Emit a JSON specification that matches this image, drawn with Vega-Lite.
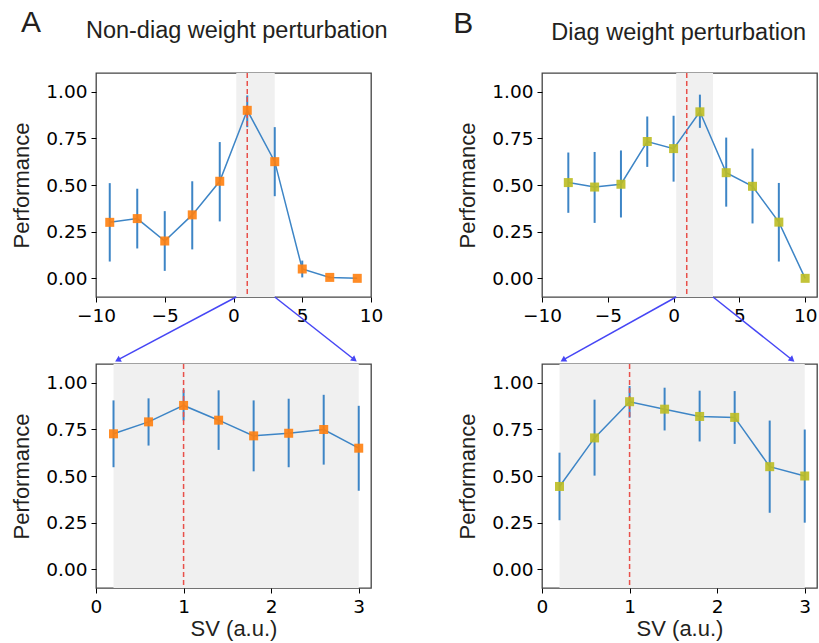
{
  "$schema": "https://vega.github.io/schema/vega-lite/v6.json",
  "background": "white",
  "padding": {"left": 10, "top": 7, "right": 3, "bottom": 3},
  "datasets": {
    "nd_full": [
      {"sv": -9, "perf": 0.30, "lo": 0.09, "hi": 0.51},
      {"sv": -7, "perf": 0.32, "lo": 0.16, "hi": 0.48},
      {"sv": -5, "perf": 0.20, "lo": 0.04, "hi": 0.36},
      {"sv": -3, "perf": 0.34, "lo": 0.155, "hi": 0.52},
      {"sv": -1, "perf": 0.52, "lo": 0.305, "hi": 0.73},
      {"sv": 1, "perf": 0.90, "lo": 0.81, "hi": 0.98},
      {"sv": 3, "perf": 0.625, "lo": 0.44, "hi": 0.81},
      {"sv": 5, "perf": 0.05, "lo": 0.005, "hi": 0.095},
      {"sv": 7, "perf": 0.005, "lo": 0.0, "hi": 0.01},
      {"sv": 9, "perf": 0.0, "lo": 0.0, "hi": 0.0}
    ],
    "d_full": [
      {"sv": -8, "perf": 0.513, "lo": 0.351, "hi": 0.674},
      {"sv": -6, "perf": 0.489, "lo": 0.297, "hi": 0.677},
      {"sv": -4, "perf": 0.504, "lo": 0.326, "hi": 0.685},
      {"sv": -2, "perf": 0.733, "lo": 0.597, "hi": 0.867},
      {"sv": 0, "perf": 0.695, "lo": 0.518, "hi": 0.871},
      {"sv": 2, "perf": 0.892, "lo": 0.806, "hi": 0.984},
      {"sv": 4, "perf": 0.566, "lo": 0.384, "hi": 0.754},
      {"sv": 6, "perf": 0.493, "lo": 0.294, "hi": 0.695},
      {"sv": 8, "perf": 0.301, "lo": 0.09, "hi": 0.511},
      {"sv": 10, "perf": 0.0, "lo": 0.0, "hi": 0.0}
    ],
    "nd_zoom": [
      {"sv": 0.2, "perf": 0.726, "lo": 0.547, "hi": 0.905},
      {"sv": 0.6, "perf": 0.79, "lo": 0.663, "hi": 0.916},
      {"sv": 1.0, "perf": 0.878, "lo": 0.797, "hi": 0.962},
      {"sv": 1.4, "perf": 0.799, "lo": 0.64, "hi": 0.959},
      {"sv": 1.8, "perf": 0.715, "lo": 0.525, "hi": 0.905},
      {"sv": 2.2, "perf": 0.729, "lo": 0.547, "hi": 0.914},
      {"sv": 2.6, "perf": 0.749, "lo": 0.561, "hi": 0.935},
      {"sv": 3.0, "perf": 0.649, "lo": 0.421, "hi": 0.876}
    ],
    "d_zoom": [
      {"sv": 0.2, "perf": 0.444, "lo": 0.263, "hi": 0.625},
      {"sv": 0.6, "perf": 0.704, "lo": 0.502, "hi": 0.909},
      {"sv": 1.0, "perf": 0.898, "lo": 0.812, "hi": 0.982},
      {"sv": 1.4, "perf": 0.858, "lo": 0.744, "hi": 0.973},
      {"sv": 1.8, "perf": 0.819, "lo": 0.685, "hi": 0.957},
      {"sv": 2.2, "perf": 0.814, "lo": 0.672, "hi": 0.955},
      {"sv": 2.6, "perf": 0.55, "lo": 0.303, "hi": 0.797},
      {"sv": 3.0, "perf": 0.50, "lo": 0.25, "hi": 0.749}
    ],
    "one": [{}]
  },
  "config": {
    "view": {"stroke": "#444444", "strokeWidth": 1.3},
    "axis": {
      "grid": false,
      "domain": false,
      "labelFlush": false,
      "labelOverlap": false,
      "labelFont": "DejaVu Sans",
      "labelFontSize": 18.5,
      "labelColor": "black",
      "tickColor": "black",
      "tickSize": 5,
      "labelPadding": 4,
      "titleFont": "Liberation Sans",
      "titleFontSize": 22,
      "titleFontWeight": "normal",
      "titleColor": "#231f20",
      "titlePadding": 12
    },
    "axisX": {"titlePadding": 3}
  },
  "bounds": "flush",
  "columns": 2,
  "spacing": {"column": 171, "row": 67},
  "concat": [
    {
      "width": 275,
      "height": 224,
      "layer": [
        {"data": {"name": "one"}, "mark": {"type": "rect", "color": "#f0f0f0"}, "encoding": {"x": {"datum": 0.2, "type": "quantitative"}, "x2": {"datum": 3}}},
        {"data": {"name": "nd_full"}, "mark": {"type": "rule", "color": "#3d85c6", "strokeWidth": 2},
         "encoding": {"x": {"field": "sv", "type": "quantitative"}, "y": {"field": "lo", "type": "quantitative"}, "y2": {"field": "hi"}}},
        {"data": {"name": "nd_full"}, "mark": {"type": "line", "color": "#3d85c6", "strokeWidth": 1.5},
         "encoding": {
           "x": {"field": "sv", "type": "quantitative", "scale": {"domain": [-10, 10], "nice": false, "zero": false}, "axis": {"values": [-10, -5, 0, 5, 10], "title": null}},
           "y": {"field": "perf", "type": "quantitative", "scale": {"domain": [-0.1, 1.1], "nice": false, "zero": false}, "axis": {"values": [0, 0.25, 0.5, 0.75, 1], "format": ".2f", "title": "Performance"}}
         }},
        {"data": {"name": "one"}, "mark": {"type": "rule", "color": "#e8504a", "strokeWidth": 1.5, "strokeDash": [5, 3]}, "encoding": {"x": {"datum": 1, "type": "quantitative"}}},
        {"data": {"name": "nd_full"}, "mark": {"type": "point", "shape": "square", "filled": true, "size": 81, "color": "#ff7f0e", "opacity": 0.9},
         "encoding": {"x": {"field": "sv", "type": "quantitative"}, "y": {"field": "perf", "type": "quantitative"}}},
        {"data": {"name": "one"}, "mark": {"type": "rule", "color": "#4646f5", "strokeWidth": 1.5},
         "encoding": {"x": {"datum": 0.2, "type": "quantitative"}, "y": {"datum": -0.1, "type": "quantitative"}, "x2": {"datum": -8.45}, "y2": {"datum": -0.438}}},
        {"data": {"name": "one"}, "mark": {"type": "rule", "color": "#4646f5", "strokeWidth": 1.5},
         "encoding": {"x": {"datum": 3, "type": "quantitative"}, "y": {"datum": -0.1, "type": "quantitative"}, "x2": {"datum": 8.8}, "y2": {"datum": -0.436}}},
        {"data": {"name": "one"}, "mark": {"type": "point", "shape": "triangle", "filled": true, "size": 45, "color": "#4646f5", "opacity": 1, "angle": 242},
         "encoding": {"x": {"datum": -8.36, "type": "quantitative"}, "y": {"datum": -0.4355, "type": "quantitative"}}},
        {"data": {"name": "one"}, "mark": {"type": "point", "shape": "triangle", "filled": true, "size": 45, "color": "#4646f5", "opacity": 1, "angle": 128},
         "encoding": {"x": {"datum": 8.74, "type": "quantitative"}, "y": {"datum": -0.433, "type": "quantitative"}}},
        {"data": {"name": "one"}, "mark": {"type": "text", "font": "Liberation Sans", "fontSize": 30, "color": "#231f20", "baseline": "alphabetic", "align": "center"},
         "encoding": {"x": {"datum": -14.73, "type": "quantitative"}, "y": {"datum": 1.32, "type": "quantitative"}, "text": {"value": "A"}}},
        {"data": {"name": "one"}, "mark": {"type": "text", "font": "Liberation Sans", "fontSize": 23.5, "color": "#231f20", "baseline": "alphabetic", "align": "center"},
         "encoding": {"x": {"datum": 0.24, "type": "quantitative"}, "y": {"datum": 1.285, "type": "quantitative"}, "text": {"value": "Non-diag weight perturbation"}}}
      ]
    },
    {
      "width": 275,
      "height": 224,
      "layer": [
        {"data": {"name": "one"}, "mark": {"type": "rect", "color": "#f0f0f0"}, "encoding": {"x": {"datum": 0.2, "type": "quantitative"}, "x2": {"datum": 3}}},
        {"data": {"name": "d_full"}, "mark": {"type": "rule", "color": "#3d85c6", "strokeWidth": 2},
         "encoding": {"x": {"field": "sv", "type": "quantitative"}, "y": {"field": "lo", "type": "quantitative"}, "y2": {"field": "hi"}}},
        {"data": {"name": "d_full"}, "mark": {"type": "line", "color": "#3d85c6", "strokeWidth": 1.5},
         "encoding": {
           "x": {"field": "sv", "type": "quantitative", "scale": {"domain": [-10, 10.9], "nice": false, "zero": false}, "axis": {"values": [-10, -5, 0, 5, 10], "title": null}},
           "y": {"field": "perf", "type": "quantitative", "scale": {"domain": [-0.1, 1.1], "nice": false, "zero": false}, "axis": {"values": [0, 0.25, 0.5, 0.75, 1], "format": ".2f", "title": "Performance"}}
         }},
        {"data": {"name": "one"}, "mark": {"type": "rule", "color": "#e8504a", "strokeWidth": 1.5, "strokeDash": [5, 3]}, "encoding": {"x": {"datum": 1, "type": "quantitative"}}},
        {"data": {"name": "d_full"}, "mark": {"type": "point", "shape": "square", "filled": true, "size": 81, "color": "#bcbd22", "opacity": 0.9},
         "encoding": {"x": {"field": "sv", "type": "quantitative"}, "y": {"field": "perf", "type": "quantitative"}}},
        {"data": {"name": "one"}, "mark": {"type": "rule", "color": "#4646f5", "strokeWidth": 1.5},
         "encoding": {"x": {"datum": 0.2, "type": "quantitative"}, "y": {"datum": -0.1, "type": "quantitative"}, "x2": {"datum": -8.43}, "y2": {"datum": -0.438}}},
        {"data": {"name": "one"}, "mark": {"type": "rule", "color": "#4646f5", "strokeWidth": 1.5},
         "encoding": {"x": {"datum": 3, "type": "quantitative"}, "y": {"datum": -0.1, "type": "quantitative"}, "x2": {"datum": 9.0}, "y2": {"datum": -0.436}}},
        {"data": {"name": "one"}, "mark": {"type": "point", "shape": "triangle", "filled": true, "size": 45, "color": "#4646f5", "opacity": 1, "angle": 239},
         "encoding": {"x": {"datum": -8.335, "type": "quantitative"}, "y": {"datum": -0.435, "type": "quantitative"}}},
        {"data": {"name": "one"}, "mark": {"type": "point", "shape": "triangle", "filled": true, "size": 45, "color": "#4646f5", "opacity": 1, "angle": 130},
         "encoding": {"x": {"datum": 8.957, "type": "quantitative"}, "y": {"datum": -0.433, "type": "quantitative"}}},
        {"data": {"name": "one"}, "mark": {"type": "text", "font": "Liberation Sans", "fontSize": 30, "color": "#231f20", "baseline": "alphabetic", "align": "center"},
         "encoding": {"x": {"datum": -15.98, "type": "quantitative"}, "y": {"datum": 1.313, "type": "quantitative"}, "text": {"value": "B"}}},
        {"data": {"name": "one"}, "mark": {"type": "text", "font": "Liberation Sans", "fontSize": 23.5, "color": "#231f20", "baseline": "alphabetic", "align": "center"},
         "encoding": {"x": {"datum": 0.39, "type": "quantitative"}, "y": {"datum": 1.278, "type": "quantitative"}, "text": {"value": "Diag weight perturbation"}}}
      ]
    },
    {
      "width": 275,
      "height": 224,
      "layer": [
        {"data": {"name": "one"}, "mark": {"type": "rect", "color": "#f0f0f0"}, "encoding": {"x": {"datum": 0.2, "type": "quantitative"}, "x2": {"datum": 3}}},
        {"data": {"name": "nd_zoom"}, "mark": {"type": "rule", "color": "#3d85c6", "strokeWidth": 2},
         "encoding": {"x": {"field": "sv", "type": "quantitative"}, "y": {"field": "lo", "type": "quantitative"}, "y2": {"field": "hi"}}},
        {"data": {"name": "nd_zoom"}, "mark": {"type": "line", "color": "#3d85c6", "strokeWidth": 1.5},
         "encoding": {
           "x": {"field": "sv", "type": "quantitative", "scale": {"domain": [0, 3.14], "nice": false, "zero": false}, "axis": {"values": [0, 1, 2, 3], "format": "d", "title": "SV (a.u.)"}},
           "y": {"field": "perf", "type": "quantitative", "scale": {"domain": [-0.1, 1.1], "nice": false, "zero": false}, "axis": {"values": [0, 0.25, 0.5, 0.75, 1], "format": ".2f", "title": "Performance"}}
         }},
        {"data": {"name": "one"}, "mark": {"type": "rule", "color": "#e8504a", "strokeWidth": 1.5, "strokeDash": [5, 3]}, "encoding": {"x": {"datum": 1, "type": "quantitative"}}},
        {"data": {"name": "nd_zoom"}, "mark": {"type": "point", "shape": "square", "filled": true, "size": 81, "color": "#ff7f0e", "opacity": 0.9},
         "encoding": {"x": {"field": "sv", "type": "quantitative"}, "y": {"field": "perf", "type": "quantitative"}}}
      ]
    },
    {
      "width": 275,
      "height": 224,
      "layer": [
        {"data": {"name": "one"}, "mark": {"type": "rect", "color": "#f0f0f0"}, "encoding": {"x": {"datum": 0.2, "type": "quantitative"}, "x2": {"datum": 3}}},
        {"data": {"name": "d_zoom"}, "mark": {"type": "rule", "color": "#3d85c6", "strokeWidth": 2},
         "encoding": {"x": {"field": "sv", "type": "quantitative"}, "y": {"field": "lo", "type": "quantitative"}, "y2": {"field": "hi"}}},
        {"data": {"name": "d_zoom"}, "mark": {"type": "line", "color": "#3d85c6", "strokeWidth": 1.5},
         "encoding": {
           "x": {"field": "sv", "type": "quantitative", "scale": {"domain": [0, 3.14], "nice": false, "zero": false}, "axis": {"values": [0, 1, 2, 3], "format": "d", "title": "SV (a.u.)"}},
           "y": {"field": "perf", "type": "quantitative", "scale": {"domain": [-0.1, 1.1], "nice": false, "zero": false}, "axis": {"values": [0, 0.25, 0.5, 0.75, 1], "format": ".2f", "title": "Performance"}}
         }},
        {"data": {"name": "one"}, "mark": {"type": "rule", "color": "#e8504a", "strokeWidth": 1.5, "strokeDash": [5, 3]}, "encoding": {"x": {"datum": 1, "type": "quantitative"}}},
        {"data": {"name": "d_zoom"}, "mark": {"type": "point", "shape": "square", "filled": true, "size": 81, "color": "#bcbd22", "opacity": 0.9},
         "encoding": {"x": {"field": "sv", "type": "quantitative"}, "y": {"field": "perf", "type": "quantitative"}}}
      ]
    }
  ]
}
